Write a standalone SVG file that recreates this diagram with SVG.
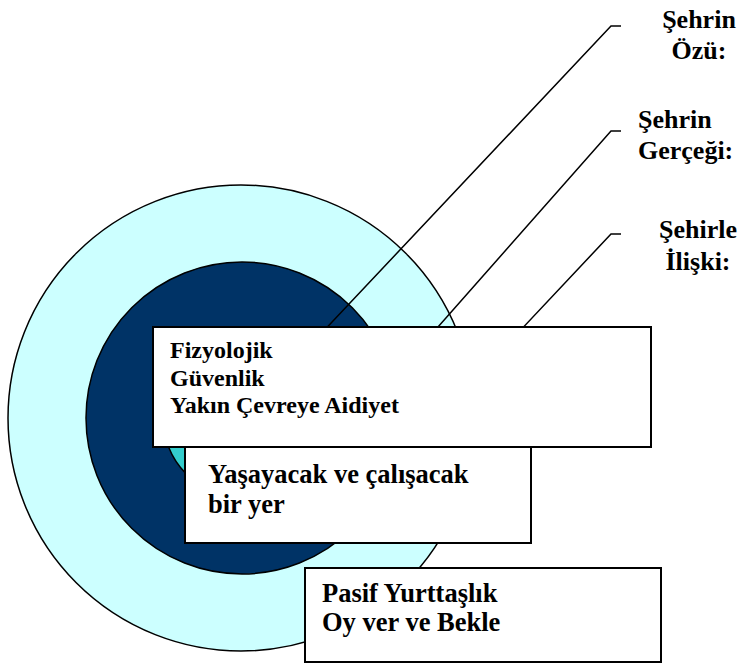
<svg xmlns="http://www.w3.org/2000/svg" width="739" height="663" viewBox="0 0 739 663">
  <style>
    .ring { stroke: #000; stroke-width: 1.5; }
    .lead { fill: none; stroke: #000; stroke-width: 1.5; }
    .box { fill: #fff; stroke: #000; stroke-width: 2; }
    .t { font-family: "Liberation Serif", "Times New Roman", serif; font-weight: bold; fill: #000; }
  </style>
  <rect width="739" height="663" fill="#fff"/>

  <!-- concentric rings -->
  <g id="rings">
    <circle id="ring-outer" class="ring" cx="241" cy="418" r="233" fill="#CCFFFF"/>
    <circle id="ring-middle" class="ring" cx="242" cy="418" r="156" fill="#003366"/>
    <circle id="ring-inner" class="ring" cx="242" cy="418" r="79" fill="#33CCCC"/>
  </g>

  <!-- leader lines from the labels into the rings -->
  <g id="connectors">
    <polyline class="lead" points="621,26 611,26 300,356"/>
    <polyline class="lead" points="621,131 611,131 400,370"/>
    <polyline class="lead" points="621,234 611,234 500,352"/>
  </g>

  <!-- ring labels -->
  <g id="label-oz">
    <text class="t" font-size="26" x="699" y="28" text-anchor="middle">Şehrin</text>
    <text class="t" font-size="26" x="699" y="59" text-anchor="middle">Özü:</text>
  </g>
  <g id="label-gercek">
    <text class="t" font-size="26" x="638" y="128">Şehrin</text>
    <text class="t" font-size="26" x="638" y="159">Gerçeği:</text>
  </g>
  <g id="label-iliski">
    <text class="t" font-size="26" x="698" y="238" text-anchor="middle">Şehirle</text>
    <text class="t" font-size="26" x="698" y="270" text-anchor="middle">İlişki:</text>
  </g>

  <!-- content boxes -->
  <g id="box-oz">
    <rect class="box" x="153" y="327" width="498" height="120"/>
    <text class="t" font-size="24" x="170" y="358">Fizyolojik</text>
    <text class="t" font-size="24" x="170" y="386">Güvenlik</text>
    <text class="t" font-size="24" x="170" y="413">Yakın Çevreye Aidiyet</text>
  </g>
  <g id="box-gercek">
    <rect class="box" x="185" y="447" width="346" height="96"/>
    <text class="t" font-size="26.5" x="208" y="483">Yaşayacak ve çalışacak</text>
    <text class="t" font-size="26.5" x="208" y="513">bir yer</text>
  </g>
  <g id="box-iliski">
    <rect class="box" x="305" y="568" width="356" height="94"/>
    <text class="t" font-size="26.5" x="322" y="602">Pasif Yurttaşlık</text>
    <text class="t" font-size="26.5" x="322" y="631">Oy ver ve Bekle</text>
  </g>
</svg>
